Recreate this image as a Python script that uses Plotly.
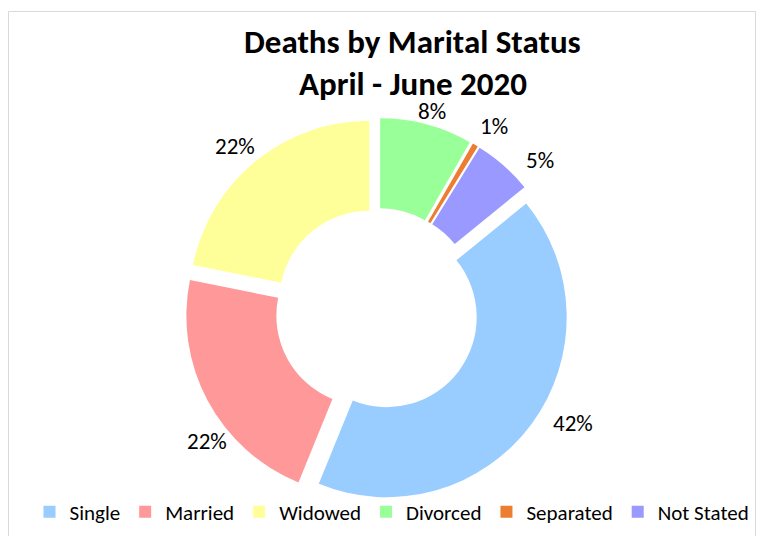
import plotly.graph_objects as go

categories = ["Single", "Married", "Widowed", "Divorced", "Separated", "Not Stated"]
values = [42.0, 22.0, 21.8, 8.3, 0.5, 5.3]
colors = ["#99CCFF", "#FF9999", "#FFFF99", "#99FF99", "#ED7D31", "#9999FF"]
title_lines = ["Deaths by Marital Status", "April - June 2020"]

# page offset of the plot inside the browser (default body margin)
OFF = 8
W, H = 765 - OFF, 536 - OFF
FONT = "Carlito, Lato, sans-serif"

# pie geometry in reference-picture pixels
CX, CY, R, PULL = 377, 310, 180, 0.067
half = R * (1 + PULL)


def px_x(x):
    return (x - OFF) / W


def px_y(y):
    return (H - (y - OFF)) / H


# data label positions (reference-picture pixels, centre of text), in category order
label_pos = [(573, 423), (207, 441), (235, 146), (432, 111), (494, 126), (540, 160)]

# first slice (Single) starts after the slices that precede it clockwise from 12 o'clock
rotation = 360 * sum(values[3:]) / sum(values)
total = sum(values)

fig = go.Figure(
    go.Pie(
        labels=categories,
        values=values,
        marker=dict(colors=colors, line=dict(width=0)),
        hole=0.5,
        pull=[PULL] * len(values),
        sort=False,
        direction="clockwise",
        rotation=rotation,
        textinfo="none",
        hoverinfo="skip",
        automargin=False,
        domain=dict(x=[px_x(CX - 300), px_x(CX + 300)],
                    y=[px_y(CY + half), px_y(CY - half)]),
    )
)

for v, (lx, ly) in zip(values, label_pos):
    pct = int(100 * v / total + 0.5)
    fig.add_annotation(text="%d%%" % pct, xref="paper", yref="paper",
                       x=px_x(lx), y=px_y(ly), showarrow=False,
                       xanchor="center", yanchor="middle",
                       font=dict(family=FONT, size=23, color="#000000"))

fig.add_annotation(text="<b>%s</b>" % title_lines[0], xref="paper", yref="paper",
                   x=px_x(413), y=px_y(42), showarrow=False, xanchor="center", yanchor="middle",
                   font=dict(family=FONT, size=33, color="#000000"))
fig.add_annotation(text="<b>%s</b>" % title_lines[1], xref="paper", yref="paper",
                   x=px_x(413), y=px_y(84), showarrow=False, xanchor="center", yanchor="middle",
                   font=dict(family=FONT, size=33, color="#000000"))

fig.add_shape(type="rect", xref="paper", yref="paper",
              x0=px_x(8.5), x1=px_x(755.5), y0=px_y(560), y1=px_y(11.5),
              line=dict(color="#D9D9D9", width=1), fillcolor="rgba(0,0,0,0)", layer="below")

fig.update_layout(
    width=W, height=H,
    margin=dict(l=0, r=0, t=0, b=0, pad=0, autoexpand=False),
    paper_bgcolor="#FFFFFF", plot_bgcolor="#FFFFFF",
    showlegend=True,
    legend=dict(orientation="h", xref="paper", yref="paper",
                x=px_x(392), y=px_y(512), xanchor="center", yanchor="middle",
                font=dict(family=FONT, size=21, color="#000000"),
                bgcolor="rgba(0,0,0,0)",
                itemwidth=30, tracegroupgap=0),
    font=dict(family=FONT),
)

fig.write_html("out.html")
